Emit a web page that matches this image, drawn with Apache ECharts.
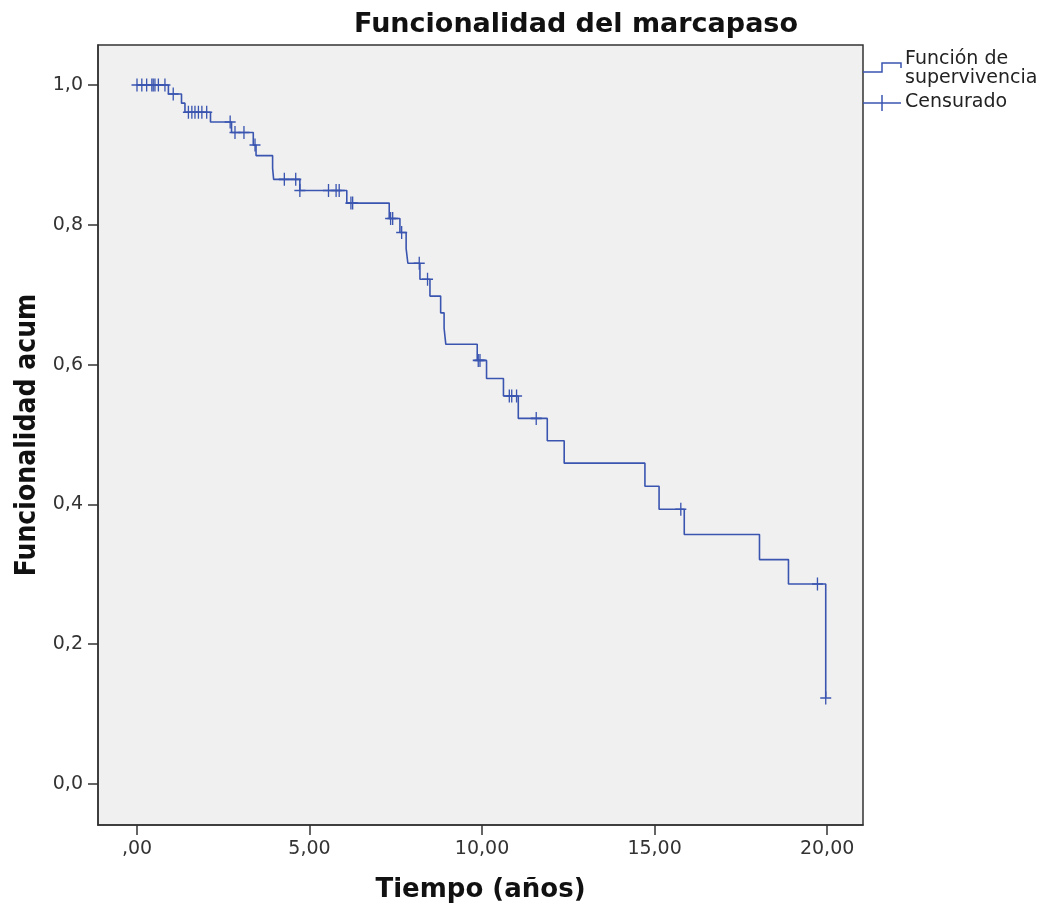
<!DOCTYPE html>
<html>
<head>
<meta charset="utf-8">
<script src="https://cdn.jsdelivr.net/npm/echarts@6/dist/echarts.min.js"></script>
<style>
html, body { margin: 0; padding: 0; background: #fff; }
#chart { width: 1045px; height: 909px; }
</style>
</head>
<body>
<div id="chart"></div>
<script>
// tiempos de evento (años) y funcionalidad acumulada tras cada escalón
var stepTimes = [0, 0.91, 1.29, 1.39, 2.13, 2.74, 3.37, 3.45, 3.93, 3.96, 4.72, 6.08, 7.31, 7.62, 7.80, 7.85,
    8.20, 8.49, 8.80, 8.90, 8.95, 9.86, 10.13, 10.62, 11.05, 11.89, 12.38, 14.72, 15.13, 15.86, 18.04, 18.88, 19.96];
var stepSurv = [1.0, 0.987, 0.974, 0.961, 0.947, 0.932, 0.914, 0.899, 0.881, 0.865, 0.849, 0.831, 0.809, 0.789, 0.766, 0.745,
    0.722, 0.698, 0.674, 0.652, 0.629, 0.606, 0.580, 0.555, 0.523, 0.491, 0.459, 0.426, 0.393, 0.357, 0.321, 0.286, 0.123];
// tiempos censurados
var censorTimes = [0.0, 0.14, 0.28, 0.43, 0.47, 0.52, 0.62, 0.81, 1.05, 1.49, 1.59, 1.68, 1.78, 1.88, 2.02,
    2.70, 2.84, 3.10, 3.42, 4.27, 4.60, 4.72, 5.55, 5.77, 5.86, 6.20, 6.25, 7.35, 7.41, 7.67, 8.18, 8.42,
    9.89, 9.94, 10.79, 10.86, 11.00, 11.57, 15.76, 19.72, 19.96];
var xTicks = [0, 5, 10, 15, 20];
var yTicks = [0, 0.2, 0.4, 0.6, 0.8, 1.0];

var blue = '#3a55b0';
var myChart = echarts.init(document.getElementById('chart'));

function survAt(t) {
    var s = stepSurv[0];
    for (var i = 0; i < stepTimes.length; i++) {
        if (stepTimes[i] <= t) s = stepSurv[i];
    }
    return s;
}

var lineData = [];
for (var i = 0; i < stepTimes.length; i++) {
    lineData.push([stepTimes[i], stepSurv[i]]);
}
var censorData = [];
for (var j = 0; j < censorTimes.length; j++) {
    censorData.push([censorTimes[j], survAt(censorTimes[j])]);
}

var plus = 'path://M8.8,0H11.2V8.8H20V11.2H11.2V20H8.8V11.2H0V8.8H8.8Z';

option = {
    backgroundColor: '#fff',
    animation: false,
    title: {
        text: 'Funcionalidad del marcapaso',
        left: 571,
        textAlign: 'center',
        top: 6,
        textStyle: {
            fontFamily: 'DejaVu Sans',
            fontWeight: 'bold',
            fontSize: 27,
            color: '#111'
        }
    },
    grid: {
        left: 98, top: 45, right: 182, bottom: 84,
        show: true,
        backgroundColor: '#f0f0f0',
        borderColor: '#333',
        borderWidth: 1.5
    },
    xAxis: {
        type: 'value',
        min: -1.13,
        max: 21.04,
        name: 'Tiempo (años)',
        nameLocation: 'middle',
        nameGap: 52,
        nameTextStyle: {
            fontFamily: 'DejaVu Sans',
            fontWeight: 'bold',
            fontSize: 26,
            color: '#111'
        },
        axisLine: { show: true, onZero: false, lineStyle: { color: '#333', width: 1.5 } },
        axisTick: { show: true, customValues: xTicks, length: 10, lineStyle: { color: '#333', width: 1.5 } },
        splitLine: { show: false },
        axisLabel: {
            customValues: xTicks,
            margin: 15,
            fontFamily: 'DejaVu Sans',
            fontSize: 19,
            color: '#333',
            formatter: function (v) {
                return v === 0 ? ',00' : v.toFixed(2).replace('.', ',');
            }
        }
    },
    yAxis: {
        type: 'value',
        min: -0.0587,
        max: 1.0572,
        name: 'Funcionalidad acum',
        nameLocation: 'middle',
        nameRotate: 90,
        nameGap: 56,
        nameTextStyle: {
            fontFamily: 'DejaVu Sans Condensed',
            fontWeight: 'bold',
            fontSize: 28,
            color: '#111'
        },
        axisLine: { show: true, onZero: false, lineStyle: { color: '#333', width: 1.5 } },
        axisTick: { show: true, customValues: yTicks, length: 10, lineStyle: { color: '#333', width: 1.5 } },
        splitLine: { show: false },
        axisLabel: {
            customValues: yTicks,
            margin: 15,
            fontFamily: 'DejaVu Sans',
            fontSize: 19,
            color: '#333',
            formatter: function (v) {
                return v.toFixed(1).replace('.', ',');
            }
        }
    },
    graphic: [
        { type: 'polyline', shape: { points: [[863, 72], [882, 72], [882, 63], [901, 63], [901, 68]] },
          style: { stroke: blue, lineWidth: 1.5, fill: null } },
        { type: 'line', shape: { x1: 863, y1: 103, x2: 901, y2: 103 }, style: { stroke: blue, lineWidth: 1.5 } },
        { type: 'line', shape: { x1: 882, y1: 95, x2: 882, y2: 111 }, style: { stroke: blue, lineWidth: 1.5 } },
        { type: 'text', left: 905, top: 50,
          style: { text: 'Función de\nsupervivencia', fontFamily: 'DejaVu Sans', fontSize: 19, lineHeight: 19, fill: '#222' } },
        { type: 'text', left: 905, top: 93,
          style: { text: 'Censurado', fontFamily: 'DejaVu Sans', fontSize: 19, fill: '#222' } }
    ],
    series: [
        {
            name: 'Función de supervivencia',
            type: 'line',
            step: 'end',
            data: lineData,
            symbol: 'none',
            lineStyle: { color: blue, width: 1.6 },
            z: 2
        },
        {
            name: 'Censurado',
            type: 'scatter',
            data: censorData,
            symbol: plus,
            symbolSize: [11, 13],
            itemStyle: { color: blue, opacity: 1 },
            z: 3
        }
    ]
};
myChart.setOption(option);
</script>
</body>
</html>
